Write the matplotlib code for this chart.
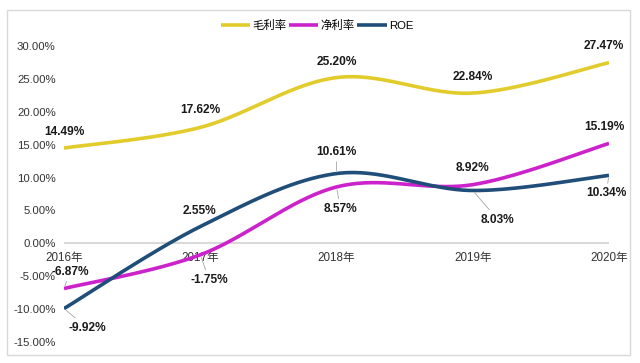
import numpy as np
from matplotlib import pyplot as plt
from matplotlib.patches import Rectangle

plt.rcParams['font.family'] = ['Liberation Sans', 'Noto Sans CJK SC', 'DejaVu Sans']

years = ["2016年", "2017年", "2018年", "2019年", "2020年"]
gross = [14.49, 17.62, 25.20, 22.84, 27.47]
net = [-6.87, -1.75, 8.57, 8.92, 15.19]
roe = [-9.92, 2.55, 10.61, 8.03, 10.34]

# label offsets in pixels (dx, dy) and whether a leader line is drawn
gross_off = [(0, 16), (0, 17), (0, 16), (0, 16), (-5, 17)]
net_off = [(6, 17), (9, -25), (4, -22), (0, 17), (-5, 16)]
roe_off = [(23, -19), (-1, 16), (0, 22), (25, -29), (-3, -18)]
net_lead = [True, True, True, False, False]
roe_lead = [True, False, True, True, True]
gross_lead = [False] * 5


def smooth(y, n=40):
    # Excel-style smoothed line: bezier segments with 1/6 neighbour tangents
    p = np.column_stack([np.arange(len(y)), y]).astype(float)
    xs, ys = [], []
    for i in range(len(p) - 1):
        p0 = p[max(i - 1, 0)]
        p1 = p[i]
        p2 = p[i + 1]
        p3 = p[min(i + 2, len(p) - 1)]
        c1 = p1 + (p2 - p0) / 6
        c2 = p2 - (p3 - p1) / 6
        t = np.linspace(0, 1, n)[:, None]
        b = ((1 - t) ** 3) * p1 + 3 * ((1 - t) ** 2) * t * c1 + 3 * (1 - t) * t ** 2 * c2 + t ** 3 * p2
        xs.extend(b[:, 0])
        ys.extend(b[:, 1])
    return np.array(xs), np.array(ys)


fig = plt.figure(figsize=(6.4, 3.63), dpi=100)
fig.patches.append(Rectangle((7 / 640, 1 - 355 / 363), 623 / 640, 345 / 363,
                             transform=fig.transFigure, fill=False,
                             edgecolor='#d9d9d9', lw=1.0))
ax = fig.add_axes([64 / 640, 1 - 342 / 363, 545 / 640, 296 / 363])

series = [("毛利率", gross, '#E2CC2C', gross_off, gross_lead),
          ("净利率", net, '#CC22CC', net_off, net_lead),
          ("ROE", roe, '#1F4E79', roe_off, roe_lead)]

ax.axhline(0, color='#d9d9d9', lw=1.5, zorder=1)

for name, vals, col, offs, leads in series:
    sx, sy = smooth(vals)
    ax.plot(sx, sy, color=col, lw=2.6, label=name, solid_capstyle='butt', zorder=3)
    for i, v in enumerate(vals):
        ap = dict(arrowstyle='-', color='#a6a6a6', lw=0.6, shrinkA=1, shrinkB=2) if leads[i] else None
        ax.annotate("%.2f%%" % v, (i, v), xytext=offs[i], textcoords='offset pixels',
                    ha='center', va='center', fontsize=8.6, fontweight='bold',
                    color='#1a1a1a', arrowprops=ap, zorder=4, annotation_clip=False)

ax.set_xlim(0, 4)
ax.set_ylim(-15, 30)
ax.set_yticks(np.arange(-15, 31, 5))
ax.set_yticklabels(["%.2f%%" % t for t in np.arange(-15, 31, 5)])
ax.set_xticks([])
for i, yr in enumerate(years):
    ax.text(i, -1.3, yr, ha='center', va='top', fontsize=8.4, color='#333333', zorder=2)
ax.tick_params(axis='y', length=0, pad=6, labelsize=8.2, labelcolor='#333333')
for s in ax.spines.values():
    s.set_visible(False)
ax.patch.set_alpha(0)

fig.legend(loc='center', bbox_to_anchor=(317 / 640, 1 - 25 / 363), ncol=3,
           frameon=False, fontsize=8.2, handlelength=2.6, handletextpad=0.2,
           columnspacing=0.2)

fig.savefig("out.png", dpi=100)
